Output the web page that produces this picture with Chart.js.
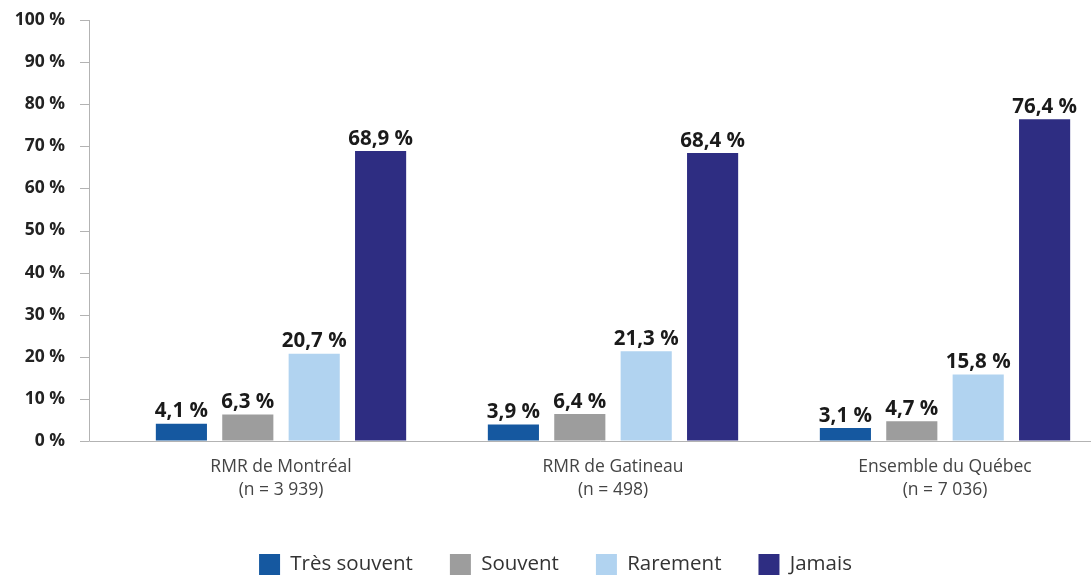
<!DOCTYPE html>
<html lang="fr">
<head>
<meta charset="UTF-8">
<title>Fréquence par région</title>
<style>
    html, body { margin: 0; padding: 0; background: #fff; }
    .wrap { width: 1091px; height: 575px; overflow: hidden; position: relative; }
    .wrap canvas { position: absolute; left: 0; top: 0; }
</style>
</head>
<body>
<div class="wrap"><canvas id="myChart" width="1120" height="585"></canvas></div>
<script src="https://cdn.jsdelivr.net/npm/chart.js"></script>
<script>
// Data
const regions = [
    ['RMR de Montréal', '(n = 3 939)'],
    ['RMR de Gatineau', '(n = 498)'],
    ['Ensemble du Québec', '(n = 7 036)']
];
const tresSouvent = [4.1, 3.9, 3.1];
const souvent = [6.3, 6.4, 4.7];
const rarement = [20.7, 21.3, 15.8];
const jamais = [68.9, 68.4, 76.4];
const yTicks = [0, 10, 20, 30, 40, 50, 60, 70, 80, 90, 100];

const fontFamily = '"Open Sans", "Noto Sans", sans-serif';
const fmt = v => v.toFixed(1).replace('.', ',') + ' %';

// axis line + ticks sit a bit left of the first group, like the original
const axisPlugin = {
    id: 'axisLines',
    afterDraw(chart) {
        const ctx = chart.ctx;
        const y = chart.scales.y;
        const axisX = 89.5;
        ctx.save();
        ctx.strokeStyle = '#b3b3b3';
        ctx.lineWidth = 1;
        ctx.beginPath();
        ctx.moveTo(axisX, y.getPixelForValue(100));
        ctx.lineTo(axisX, y.getPixelForValue(0));
        yTicks.forEach(t => {
            const py = Math.round(y.getPixelForValue(t)) + 0.5;
            ctx.moveTo(80, py);
            ctx.lineTo(axisX, py);
        });
        const y0 = Math.round(y.getPixelForValue(0)) + 0.5;
        ctx.moveTo(axisX, y0);
        ctx.lineTo(chart.chartArea.right, y0);
        ctx.stroke();
        ctx.restore();
    }
};

// value labels above each bar
const labelPlugin = {
    id: 'barLabels',
    afterDatasetsDraw(chart) {
        const ctx = chart.ctx;
        ctx.save();
        ctx.font = 'bold 20.5px ' + fontFamily;
        ctx.fillStyle = '#1a1a1a';
        ctx.textAlign = 'center';
        ctx.textBaseline = 'bottom';
        chart.data.datasets.forEach((ds, i) => {
            chart.getDatasetMeta(i).data.forEach((bar, j) => {
                ctx.fillText(fmt(ds.data[j]), bar.x, bar.y - 2);
            });
        });
        ctx.restore();
    }
};

var ctx = document.getElementById('myChart').getContext('2d');
var myChart = new Chart(ctx, {
    type: 'bar',
    data: {
        labels: regions,
        datasets: [
            { label: 'Très souvent', data: tresSouvent, backgroundColor: '#1558a0' },
            { label: 'Souvent', data: souvent, backgroundColor: '#9d9d9d' },
            { label: 'Rarement', data: rarement, backgroundColor: '#b1d3f0' },
            { label: 'Jamais', data: jamais, backgroundColor: '#2e2d82' }
        ]
    },
    options: {
        responsive: false,
        animation: false,
        layout: { padding: { top: 20, right: 9, bottom: 0, left: 0 } },
        datasets: {
            bar: { barPercentage: 0.77, categoryPercentage: 0.8 }
        },
        scales: {
            x: {
                grid: { display: false, drawTicks: false },
                border: { display: false },
                ticks: {
                    color: '#444',
                    padding: 15,
                    font: { family: fontFamily, size: 17.5, lineHeight: 1.31 }
                },
                afterFit(scale) { scale.height = 76; }
            },
            y: {
                min: 0,
                max: 100,
                // invisible tick marks only used to push the labels left
                grid: { drawOnChartArea: false, drawTicks: true, tickLength: 47, color: 'rgba(0,0,0,0)' },
                border: { display: false },
                ticks: {
                    stepSize: 10,
                    color: '#222',
                    padding: 3,
                    font: { family: fontFamily, size: 17.5, weight: 'bold' },
                    callback: v => v + ' %'
                },
                afterFit(scale) { scale.width = 115; }
            }
        },
        plugins: {
            legend: {
                position: 'bottom',
                labels: {
                    boxWidth: 21,
                    boxHeight: 21,
                    padding: 37,
                    color: '#333',
                    font: { family: fontFamily, size: 20.5 }
                }
            },
            tooltip: { enabled: false }
        }
    },
    plugins: [axisPlugin, labelPlugin]
});
</script>
</body>
</html>
